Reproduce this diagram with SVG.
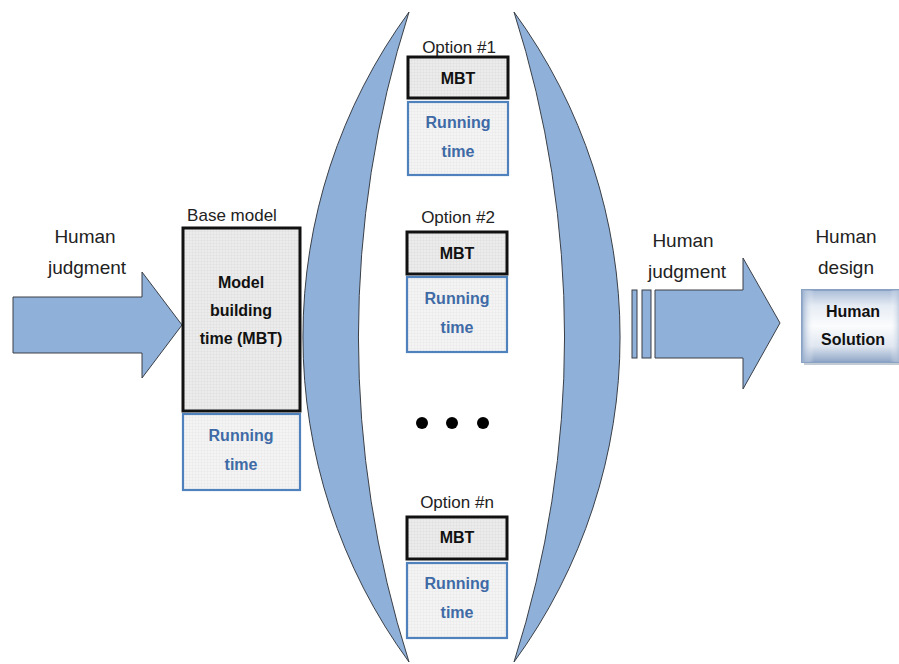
<svg xmlns="http://www.w3.org/2000/svg" width="899" height="664" viewBox="0 0 899 664">
  <defs>
    <pattern id="grid" width="3" height="3" patternUnits="userSpaceOnUse">
      <rect width="3" height="3" fill="#ececec"/>
      <path d="M0 0.5H3M0.5 0V3" stroke="#e0e0e0" stroke-width="0.6"/>
    </pattern>
    <pattern id="gridLight" width="3" height="3" patternUnits="userSpaceOnUse">
      <rect width="3" height="3" fill="#f4f4f4"/>
      <path d="M0 0.5H3M0.5 0V3" stroke="#e9e9e9" stroke-width="0.6"/>
    </pattern>
    <linearGradient id="solGrad" x1="0" y1="0" x2="0" y2="1">
      <stop offset="0" stop-color="#a9bcd8"/>
      <stop offset="0.22" stop-color="#e6ecf4"/>
      <stop offset="0.5" stop-color="#fbfcfd"/>
      <stop offset="0.78" stop-color="#dfe6f0"/>
      <stop offset="1" stop-color="#8fa6c6"/>
    </linearGradient>
    <linearGradient id="solSide" x1="0" y1="0" x2="1" y2="0">
      <stop offset="0" stop-color="#94abcb" stop-opacity="0.85"/>
      <stop offset="0.12" stop-color="#ffffff" stop-opacity="0"/>
      <stop offset="0.88" stop-color="#ffffff" stop-opacity="0"/>
      <stop offset="1" stop-color="#94abcb" stop-opacity="0.85"/>
    </linearGradient>
  </defs>
  <style>
    .shape { fill: #8fb0d9; stroke: #3a3f47; stroke-width: 1; }
    .mbt { fill: url(#grid); stroke: #111; stroke-width: 3; }
    .run { fill: url(#gridLight); stroke: #4f81bd; stroke-width: 2.2; }
    .lbl { font-family: "Liberation Sans", Arial, sans-serif; fill: #222; text-anchor: middle; }
    .big { font-size: 19px; }
    .cap { font-size: 17px; }
    .b { font-weight: bold; font-size: 16px; fill: #111; }
    .rt { font-weight: bold; font-size: 16px; fill: #3e6aa6; }
  </style>

  <!-- bracket crescents around the options -->
  <g id="bracket-left">
    <path class="shape" d="M409,12 A551,551 0 0 0 409,662 A1070,1070 0 0 1 409,12 Z"/>
  </g>
  <g id="bracket-right">
    <path class="shape" d="M514,12 A551,551 0 0 1 514,662 A1070,1070 0 0 0 514,12 Z"/>
  </g>

  <g id="connectors">
    <!-- incoming judgment arrow -->
    <path class="shape" d="M13,297 H142 V272 L182,325 L142,378 V353 H13 Z"/>
    <!-- outgoing judgment arrow with stripes -->
    <rect class="shape" x="632" y="290" width="5" height="68"/>
    <rect class="shape" x="642" y="290" width="9" height="68"/>
    <path class="shape" d="M655,290 H743 V258 L780,323 L743,389 V358 H655 Z"/>
  </g>

  <g id="label-in">
    <text class="lbl big" x="85" y="243">Human</text>
    <text class="lbl big" x="87" y="274">judgment</text>
  </g>

  <g id="base-model">
    <text class="lbl cap" x="232" y="221">Base model</text>
    <rect class="mbt" x="183" y="228" width="117" height="183"/>
    <text class="lbl b" x="241" y="288">Model</text>
    <text class="lbl b" x="241" y="316">building</text>
    <text class="lbl b" x="241" y="344">time (MBT)</text>
    <rect class="run" x="183" y="414" width="117" height="76"/>
    <text class="lbl rt" x="241" y="441">Running</text>
    <text class="lbl rt" x="241" y="470">time</text>
  </g>

  <g id="option-1">
    <text class="lbl cap" x="459" y="53">Option #1</text>
    <rect class="mbt" x="408" y="57" width="100" height="41"/>
    <text class="lbl b" x="458" y="84">MBT</text>
    <rect class="run" x="408" y="102" width="100" height="73"/>
    <text class="lbl rt" x="458" y="128">Running</text>
    <text class="lbl rt" x="458" y="157">time</text>
  </g>

  <g id="option-2">
    <text class="lbl cap" x="458" y="223">Option #2</text>
    <rect class="mbt" x="407" y="232" width="100" height="42"/>
    <text class="lbl b" x="457" y="259">MBT</text>
    <rect class="run" x="407" y="277" width="100" height="75"/>
    <text class="lbl rt" x="457" y="304">Running</text>
    <text class="lbl rt" x="457" y="333">time</text>
  </g>

  <g id="ellipsis">
    <circle cx="422" cy="423" r="6" fill="#000"/>
    <circle cx="452" cy="423" r="6" fill="#000"/>
    <circle cx="483" cy="423" r="6" fill="#000"/>
  </g>

  <g id="option-n">
    <text class="lbl cap" x="457" y="508">Option #n</text>
    <rect class="mbt" x="407" y="517" width="100" height="42"/>
    <text class="lbl b" x="457" y="543">MBT</text>
    <rect class="run" x="407" y="563" width="100" height="75"/>
    <text class="lbl rt" x="457" y="589">Running</text>
    <text class="lbl rt" x="457" y="618">time</text>
  </g>

  <g id="label-out">
    <text class="lbl big" x="683" y="247">Human</text>
    <text class="lbl big" x="687" y="278">judgment</text>
  </g>

  <g id="human-solution">
    <text class="lbl big" x="846" y="243">Human</text>
    <text class="lbl big" x="846" y="274">design</text>
    <rect x="804" y="293" width="100" height="72" fill="#9aa7b8" opacity="0.6"/>
    <rect x="802" y="290" width="100" height="72" fill="url(#solGrad)" stroke="#8aa2c4" stroke-width="2"/>
    <rect x="802" y="290" width="100" height="72" fill="url(#solSide)"/>
    <text class="lbl b" x="853" y="317">Human</text>
    <text class="lbl b" x="853" y="345">Solution</text>
  </g>
</svg>
